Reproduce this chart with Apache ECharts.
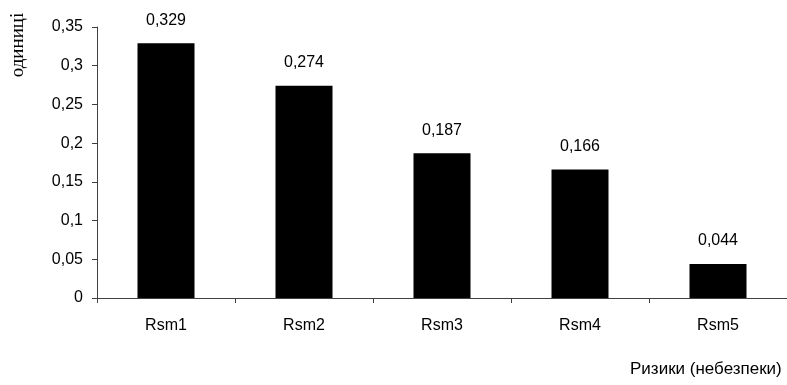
<!DOCTYPE html>
<html>
<head>
<meta charset="utf-8">
<script src="https://cdn.jsdelivr.net/npm/echarts@6/dist/echarts.min.js"></script>
<style>
  html, body { margin: 0; padding: 0; background: #fff; }
  #chart { width: 787px; height: 385px; }
</style>
</head>
<body>
<div id="chart"></div>
<script>
// Risk values per category
const categories = ["Rsm1", "Rsm2", "Rsm3", "Rsm4", "Rsm5"];
const values = [0.329, 0.274, 0.187, 0.166, 0.044];
const yTicks = [0, 0.05, 0.1, 0.15, 0.2, 0.25, 0.3, 0.35];

const comma = (v) => String(+v.toFixed(3)).replace(".", ",");

const chart = echarts.init(document.getElementById("chart"));
chart.setOption({
  animation: false,
  textStyle: { fontFamily: "Liberation Sans, Arial, sans-serif" },
  grid: { left: 97, right: 0, top: 27, bottom: 87 },
  xAxis: {
    type: "category",
    data: categories,
    axisLine: { lineStyle: { color: "#404040", width: 1 } },
    axisTick: { show: true, length: 5, lineStyle: { color: "#404040" } },
    axisLabel: { color: "#000", fontSize: 16, margin: 20 },
  },
  yAxis: {
    type: "value",
    min: yTicks[0],
    max: yTicks[yTicks.length - 1],
    interval: 0.05,
    splitLine: { show: false },
    axisLine: { show: true, lineStyle: { color: "#404040", width: 1 } },
    axisTick: { show: true, length: 5, lineStyle: { color: "#404040" } },
    axisLabel: { color: "#000", fontSize: 16, margin: 14, formatter: comma },
  },
  graphic: [
    {
      type: "text",
      x: 18,
      y: 45,
      rotation: Math.PI / 2,
      style: {
        text: "одиниці",
        font: "19px 'Liberation Serif', 'DejaVu Serif', serif",
        fill: "#000",
        align: "center",
        verticalAlign: "middle",
      },
    },
    {
      type: "text",
      left: 630,
      top: 361,
      style: {
        text: "Ризики (небезпеки)",
        font: "17px 'Liberation Sans', Arial, sans-serif",
        fill: "#000",
      },
    },
  ],
  series: [
    {
      type: "bar",
      data: values,
      barWidth: 57,
      itemStyle: { color: "#000" },
      label: {
        show: true,
        position: "top",
        distance: 15,
        color: "#000",
        fontSize: 16,
        formatter: (p) => comma(p.value),
      },
    },
  ],
});
</script>
</body>
</html>
